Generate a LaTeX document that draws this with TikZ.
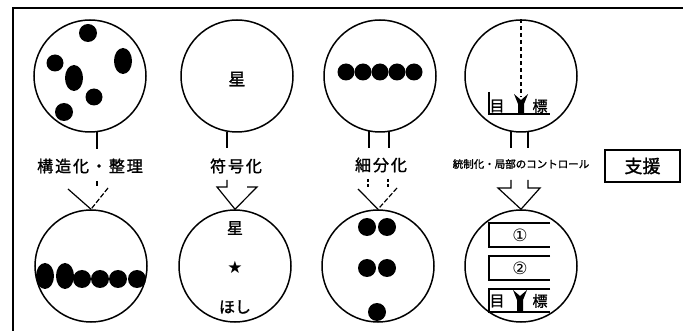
\documentclass[tikz,border=0pt]{standalone}
\usepackage{fontspec}
\newfontfamily\jp[FakeBold=1.5]{Noto Sans CJK JP}
\newfontfamily\jpw[LetterSpace=12,FakeBold=1.5]{Noto Sans CJK JP}
\newfontfamily\dv{DejaVu Sans}
\usetikzlibrary{calc}
\begin{document}
\begin{tikzpicture}[x=1pt,y=-1pt,
  ring/.style={circle,draw,line width=1.5pt,minimum size=112pt,inner sep=0pt},
  lbl/.style={inner sep=0pt,font=\jpw\fontsize{16}{16}\selectfont},
  small/.style={inner sep=0pt,font=\jp\fontsize{10.5}{10.5}\selectfont},
  intext/.style={inner sep=0pt,font=\jp\fontsize{17}{17}\selectfont},
  sym/.style={inner sep=0pt,font=\dv\fontsize{17}{17}\selectfont},
  conn/.style={line width=1.2pt}]
\useasboundingbox (0,0) rectangle (683,331);
% frame
\draw[line width=2pt] (683,8) -- (13,8) -- (13,331);
% circles
\node[ring] (t1) at (90,76) {};
\node[ring] (t2) at (237,76) {};
\node[ring] (t3) at (380,76) {};
\node[ring] (t4) at (521,76) {};
\node[ring] (b1) at (91,266) {};
\node[ring] (b2) at (235,266) {};
\node[ring] (b3) at (378,266) {};
\node[ring] (b4) at (521,266) {};
% labels
\node[lbl] (l1) at (90,166) {構造化・整理};
\node[lbl] (l2) at (236,166) {符号化};
\node[lbl] (l3) at (381,165) {細分化};
\node[small] (l4) at (521,164) {統制化・局部のコントロール};
\node[draw,line width=1.5pt,minimum width=75pt,minimum height=32pt,inner sep=0pt,
      font=\jp\fontsize{18}{18}\selectfont] (sup) at (642.5,166) {支援};
% ---- column 1 ----
\fill (88,33) circle[radius=9];
\fill (55,63) circle[radius=8.5];
\fill (74,78) ellipse[x radius=9,y radius=13];
\fill (123,61) ellipse[x radius=9,y radius=13];
\fill (94,97) circle[radius=8.5];
\fill (64,112) circle[radius=9];
\coordinate (s1a) at (97,132);
\coordinate (s1b) at (97,149);
\draw[conn] (s1a) -- (s1b);
\coordinate (a1) at (b1.north);
\coordinate (h1l) at (68,189);
\coordinate (h1r) at (108,188);
\draw[conn] (97,181) -- (97,186);
\draw[conn] (h1l) -- (a1);
\draw[conn,dash pattern=on 5pt off 2pt] (h1r) -- (a1);
\fill (45,276) ellipse[x radius=9,y radius=13];
\fill (65,276) ellipse[x radius=9,y radius=13];
\foreach \x in {82,100,118,137} \fill (\x,279) circle[radius=9];
% ---- column 2 ----
\node[intext] (star1) at (237,79) {星};
\draw[conn] (227,132) -- (227,148);
\coordinate (a2) at (b2.north);
\draw[conn] (227,180) -- (227,187) -- (217,187) -- (a2) -- (257,187) -- (247,187);
\node[intext,font=\jp\fontsize{16}{16}\selectfont] (star2) at (235,228) {星};
\node[sym] (star3) at (235,267) {★};
\node[intext,font=\jp\fontsize{16}{16}\selectfont] (hoshi) at (235,307) {ほし};
% ---- column 3 ----
\foreach \x in {346,363,380,397,414} \fill (\x,72) circle[radius=8.5];
\draw[conn] (369,131) -- (369,148);
\draw[conn] (389,131) -- (389,148);
\coordinate (a3) at (b3.north);
\draw[conn,dash pattern=on 3pt off 2pt] (368,179) -- (368,188);
\draw[conn,dash pattern=on 3pt off 2pt] (388,179) -- (388,188);
\draw[conn] (358,189) -- (a3);
\draw[conn,dash pattern=on 5pt off 2pt] (397,188) -- (a3);
\foreach \p in {(367,227),(387,227),(367,268),(387,268),(377,312)} \fill \p circle[radius=9];
% ---- column 4 ----
\draw[conn,dash pattern=on 4pt off 3pt] (t4.north) -- (521,97);
\fill (514,94) -- (521,100) -- (528,94) -- (524,104) -- (524,113) -- (518,113) -- (518,104) -- cycle;
\draw[conn] (489,92) -- (489,114) -- (550,114);
\node[intext,font=\jp\fontsize{15}{15}\selectfont] (moku1) at (497,106) {目};
\node[intext,font=\jp\fontsize{15}{15}\selectfont] (hyo1) at (540,106) {標};
\draw[conn] (511,131) -- (511,148);
\draw[conn] (528,131) -- (528,148);
\coordinate (a4) at (b4.north);
\draw[conn] (511,180) -- (511,188) -- (498,188) -- (a4) -- (540,188) -- (528,188) -- (528,180);
\draw[conn] (550,223) -- (489,223) -- (489,247) -- (550,247);
\node[sym] (n1) at (520,235) {①};
\draw[conn] (550,256) -- (489,256) -- (489,280) -- (550,280);
\node[sym] (n2) at (520,268) {②};
\draw[conn] (550,289) -- (489,289) -- (489,312) -- (550,312);
\fill (513,290) -- (520,296) -- (527,290) -- (523,300) -- (523,311) -- (517,311) -- (517,300) -- cycle;
\node[intext,font=\jp\fontsize{15}{15}\selectfont] (moku2) at (497,301) {目};
\node[intext,font=\jp\fontsize{15}{15}\selectfont] (hyo2) at (540,301) {標};
\end{tikzpicture}
\end{document}
